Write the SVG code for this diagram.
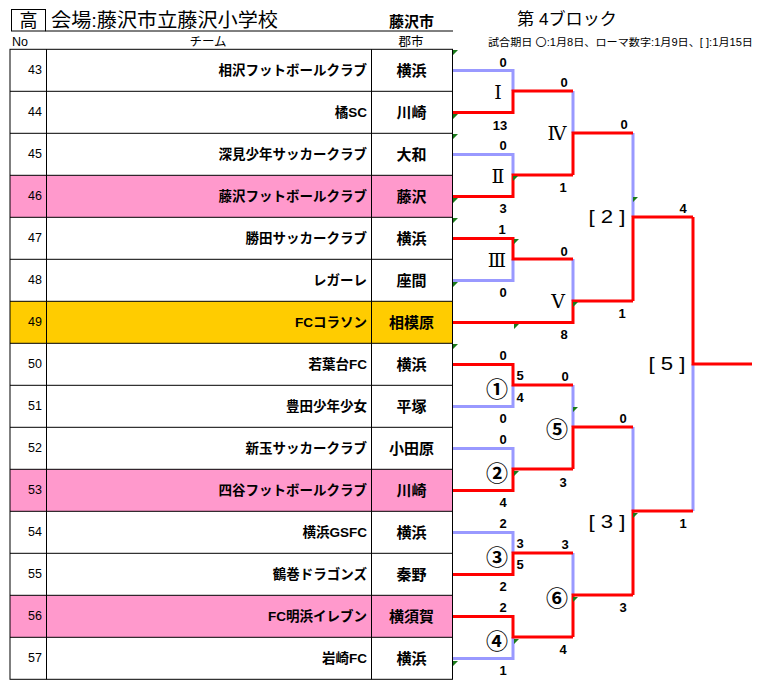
<svg xmlns="http://www.w3.org/2000/svg" width="762" height="698" viewBox="0 0 762 698">
<style>
text{font-family:"Liberation Sans","Noto Sans CJK JP",sans-serif;fill:#000}
.no{font-size:12.5px;text-anchor:end;dominant-baseline:central}
.tm{font-size:13.5px;font-weight:bold;text-anchor:end;dominant-baseline:central}
.ct{font-size:15px;font-weight:bold;text-anchor:middle;dominant-baseline:central}
.hd{font-size:12.5px;dominant-baseline:central}
.s{font-size:13px;font-weight:bold;text-anchor:middle;dominant-baseline:central}
.rm{font-family:"DejaVu Serif","Noto Sans CJK JP",serif;font-size:19px;text-anchor:middle;dominant-baseline:central}
.cn{font-family:"Noto Sans CJK JP",sans-serif;font-size:22px;font-weight:bold;text-anchor:middle;dominant-baseline:central}
.bk{font-size:18px;text-anchor:middle;dominant-baseline:central}
.g{fill:none;stroke:#000;stroke-width:1}
.lav{fill:none;stroke:#9999FF;stroke-width:3}
.red{fill:none;stroke:#FF0000;stroke-width:3}
.tri{fill:#1A7A1A}
</style>
<rect x="0" y="0" width="762" height="698" fill="#fff"/>

<g id="header">
<rect class="g" x="11.5" y="9.5" width="34" height="21.5"/>
<text x="28.5" y="21" style="font-size:18px;text-anchor:middle;dominant-baseline:central">高</text>
<line class="g" x1="45.5" y1="31" x2="453" y2="31"/>
<text x="51" y="20.5" style="font-size:19px;dominant-baseline:central" textLength="227" lengthAdjust="spacingAndGlyphs">会場:藤沢市立藤沢小学校</text>
<text x="411.5" y="21" style="font-size:15px;font-weight:bold;text-anchor:middle;dominant-baseline:central">藤沢市</text>
<text x="517" y="19.5" style="font-size:17px;dominant-baseline:central" textLength="100" lengthAdjust="spacingAndGlyphs">第 4ブロック</text>
<text x="488" y="42" style="font-size:10.5px;dominant-baseline:central" textLength="265" lengthAdjust="spacingAndGlyphs">試合期日 〇:1月8日、ローマ数字:1月9日、[ ]:1月15日</text>
<text class="hd" x="12" y="42">No</text>
<text class="hd" x="208" y="42" text-anchor="middle">チーム</text>
<text class="hd" x="411" y="42" text-anchor="middle">郡市</text>
</g>

<g id="table">
<rect x="10" y="175.3" width="443" height="42" fill="#FF99CC"/>
<rect x="10" y="301.3" width="443" height="42" fill="#FFCC00"/>
<rect x="10" y="469.3" width="443" height="42" fill="#FF99CC"/>
<rect x="10" y="595.3" width="443" height="42" fill="#FF99CC"/>
<rect class="g" x="10" y="49.3" width="442.5" height="630"/>
<line class="g" x1="46.5" y1="49.3" x2="46.5" y2="679.3"/>
<line class="g" x1="371.5" y1="49.3" x2="371.5" y2="679.3"/>
<path class="g" d="M10 91.3H452.5M10 133.3H452.5M10 175.3H452.5M10 217.3H452.5M10 259.3H452.5M10 301.3H452.5M10 343.3H452.5M10 385.3H452.5M10 427.3H452.5M10 469.3H452.5M10 511.3H452.5M10 553.3H452.5M10 595.3H452.5M10 637.3H452.5"/>
</g>

<g id="row43"><text class="no" x="42" y="70.3">43</text><text class="tm" x="367" y="70.3">相沢フットボールクラブ</text><text class="ct" x="411.5" y="70.3">横浜</text></g>
<g id="row44"><text class="no" x="42" y="112.3">44</text><text class="tm" x="367" y="112.3">橘SC</text><text class="ct" x="411.5" y="112.3">川崎</text></g>
<g id="row45"><text class="no" x="42" y="154.3">45</text><text class="tm" x="367" y="154.3">深見少年サッカークラブ</text><text class="ct" x="411.5" y="154.3">大和</text></g>
<g id="row46"><text class="no" x="42" y="196.3">46</text><text class="tm" x="367" y="196.3">藤沢フットボールクラブ</text><text class="ct" x="411.5" y="196.3">藤沢</text></g>
<g id="row47"><text class="no" x="42" y="238.3">47</text><text class="tm" x="367" y="238.3">勝田サッカークラブ</text><text class="ct" x="411.5" y="238.3">横浜</text></g>
<g id="row48"><text class="no" x="42" y="280.3">48</text><text class="tm" x="367" y="280.3">レガーレ</text><text class="ct" x="411.5" y="280.3">座間</text></g>
<g id="row49"><text class="no" x="42" y="322.3">49</text><text class="tm" x="367" y="322.3">FCコラソン</text><text class="ct" x="411.5" y="322.3">相模原</text></g>
<g id="row50"><text class="no" x="42" y="364.3">50</text><text class="tm" x="367" y="364.3">若葉台FC</text><text class="ct" x="411.5" y="364.3">横浜</text></g>
<g id="row51"><text class="no" x="42" y="406.3">51</text><text class="tm" x="367" y="406.3">豊田少年少女</text><text class="ct" x="411.5" y="406.3">平塚</text></g>
<g id="row52"><text class="no" x="42" y="448.3">52</text><text class="tm" x="367" y="448.3">新玉サッカークラブ</text><text class="ct" x="411.5" y="448.3">小田原</text></g>
<g id="row53"><text class="no" x="42" y="490.3">53</text><text class="tm" x="367" y="490.3">四谷フットボールクラブ</text><text class="ct" x="411.5" y="490.3">川崎</text></g>
<g id="row54"><text class="no" x="42" y="532.3">54</text><text class="tm" x="367" y="532.3">横浜GSFC</text><text class="ct" x="411.5" y="532.3">横浜</text></g>
<g id="row55"><text class="no" x="42" y="574.3">55</text><text class="tm" x="367" y="574.3">鶴巻ドラゴンズ</text><text class="ct" x="411.5" y="574.3">秦野</text></g>
<g id="row56"><text class="no" x="42" y="616.3">56</text><text class="tm" x="367" y="616.3">FC明浜イレブン</text><text class="ct" x="411.5" y="616.3">横須賀</text></g>
<g id="row57"><text class="no" x="42" y="658.3">57</text><text class="tm" x="367" y="658.3">岩崎FC</text><text class="ct" x="411.5" y="658.3">横浜</text></g>

<g id="connectors">
<path class="lav" d="M453 70.5H513V91M453 154.5H513V175M453 280.5H513V259M453 406.5H513V385M453 448.5H513V469M453 532.5H513V553M453 658.5H513V637"/>
<path class="lav" d="M573 91V133M573 259V301M573 385V427M573 553V595M633 133V217M633 427V511M693 511V364"/>
<path class="red" d="M453 112.5H513V91H573M453 196.5H513V175H573M453 238.5H513V259H573M453 364.5H513V385H573M453 490.5H513V469H573M453 574.5H513V553H573M453 616.5H513V637H573"/>
<path class="red" d="M573 175V133H633M453 322.5H573V301H633M573 469V427H633M573 637V595H633"/>
<path class="red" d="M633 301V217H693M633 595V511H693M693 217V364H752"/>
</g>

<g id="markers">
<path class="tri" d="M453 50h5l-5 5zM453 114h5l-5 5zM453 134h5l-5 5zM513 176h5l-5 5zM453 198h5l-5 5zM453 218h5l-5 5zM514 239h5l-5 5zM453 282h5l-5 5zM573 302h5l-5 5zM514 324h5l-5 5zM633 197h5l-5 5zM453 344h5l-5 5zM573 407h5l-5 5zM514 471h5l-5 5zM453 661h5l-5 5zM514 639h5l-5 5zM573 597h5l-5 5zM633 513h5l-5 5z"/>
</g>

<g id="matchI"><text class="s" x="503" y="62">0</text><text class="rm" x="498" y="92">Ⅰ</text><text class="s" x="500" y="125">13</text></g>
<g id="matchII"><text class="s" x="503" y="145">0</text><text class="rm" x="498" y="176">Ⅱ</text><text class="s" x="503" y="208">3</text></g>
<g id="matchIII"><text class="s" x="502" y="229">1</text><text class="rm" x="497" y="260">Ⅲ</text><text class="s" x="503" y="292">0</text></g>
<g id="matchIV"><text class="s" x="564" y="82">0</text><text class="rm" x="557" y="133">Ⅳ</text><text class="s" x="563" y="187">1</text></g>
<g id="matchV"><text class="s" x="564" y="251">0</text><text class="rm" x="558" y="301">Ⅴ</text><text class="s" x="564" y="334">8</text></g>
<g id="match2"><text class="s" x="624" y="124">0</text><text class="bk" x="607" y="217" textLength="37" lengthAdjust="spacingAndGlyphs">[ 2 ]</text><text class="s" x="622" y="313">1</text></g>
<g id="match-c1"><text class="s" x="503" y="355">0</text><text class="cn" x="497" y="387">①</text><text class="s" x="520" y="375">5</text><text class="s" x="520" y="397">4</text><text class="s" x="503" y="418">0</text></g>
<g id="match-c2"><text class="s" x="503" y="439">0</text><text class="cn" x="497" y="471">②</text><text class="s" x="503" y="502">4</text></g>
<g id="match-c5"><text class="s" x="565" y="376">0</text><text class="cn" x="557" y="427">⑤</text><text class="s" x="563" y="482">3</text></g>
<g id="match-c3"><text class="s" x="503" y="523">2</text><text class="cn" x="497" y="555">③</text><text class="s" x="520" y="543">3</text><text class="s" x="520" y="564">5</text><text class="s" x="503" y="586">2</text></g>
<g id="match-c4"><text class="s" x="503" y="607">2</text><text class="cn" x="497" y="639">④</text><text class="s" x="503" y="670">1</text></g>
<g id="match-c6"><text class="s" x="565" y="544">3</text><text class="cn" x="557" y="596">⑥</text><text class="s" x="563" y="649">4</text></g>
<g id="match3"><text class="s" x="623" y="418">0</text><text class="bk" x="607" y="522" textLength="37" lengthAdjust="spacingAndGlyphs">[ 3 ]</text><text class="s" x="623" y="607">3</text></g>
<g id="match5"><text class="s" x="683" y="208">4</text><text class="bk" x="667" y="364" textLength="37" lengthAdjust="spacingAndGlyphs">[ 5 ]</text><text class="s" x="683" y="523">1</text></g>
</svg>
